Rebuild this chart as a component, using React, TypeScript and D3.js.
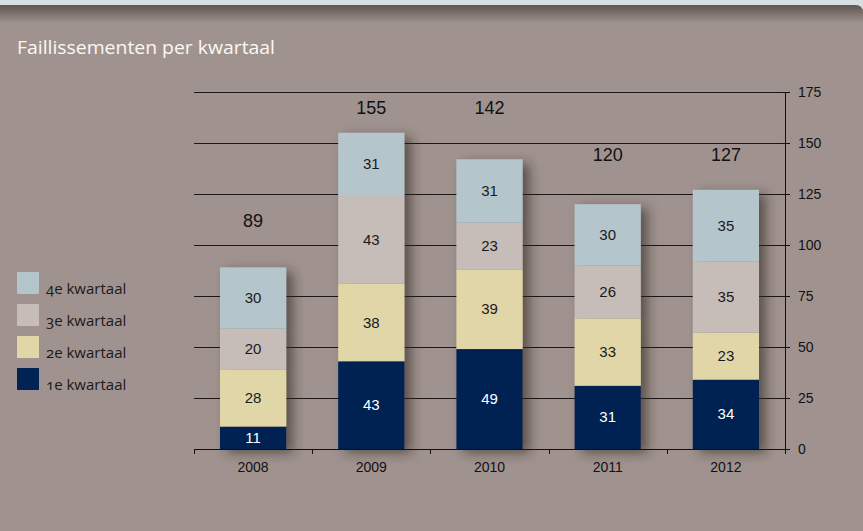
import React from "react";
import * as d3 from "d3";

const years = ["2008", "2009", "2010", "2011", "2012"];
const q1 = [11, 43, 49, 31, 34];
const q2 = [28, 38, 39, 33, 23];
const q3 = [20, 43, 23, 26, 35];
const q4 = [30, 31, 31, 30, 35];
const totals = [89, 155, 142, 120, 127];
const seriesNames = ["1e kwartaal", "2e kwartaal", "3e kwartaal", "4e kwartaal"];
const yTicks = [0, 25, 50, 75, 100, 125, 150, 175];
const title = "Faillissementen per kwartaal";

const colors = ["#012353", "#e1d6a8", "#c6bdb8", "#b4c6cb"];
const labelColors = ["#ffffff", "#1a1a1a", "#1a1a1a", "#1a1a1a"];
// height (in data units) at which each total label is centred
const totalLabelLevels = [112, 167, 167, 144, 144];

export default function App() {
  const W = 863, H = 531;
  const left = 194, right = 785, top = 92, bottom = 449;
  const x = d3.scaleBand<string>().domain(years).range([left, right]).paddingInner(0.44).paddingOuter(0.22);
  const xb = d3.scaleBand<string>().domain(years).range([left, right]);
  const y = d3.scaleLinear().domain([0, 175]).range([bottom, top]);
  const series = [q1, q2, q3, q4];
  const stackData = years.map((yr, i) => ({ yr, s0: q1[i], s1: q2[i], s2: q3[i], s3: q4[i] }));
  const stack = d3.stack<any>().keys(["s0", "s1", "s2", "s3"])(stackData);
  const font = "'Liberation Sans', Arial, sans-serif";
  const legendOrder = [3, 2, 1, 0];

  return (
    <svg width={W} height={H} style={{ position: "absolute", left: 0, top: 0 }}>
      <defs>
        <linearGradient id="topShade" x1="0" y1="0" x2="0" y2="1">
          <stop offset="0" stopColor="#5f5551" />
          <stop offset="1" stopColor="#a0938f" />
        </linearGradient>
        <filter id="shadow" x="-30%" y="-20%" width="180%" height="150%">
          <feDropShadow dx="7" dy="4" stdDeviation="6" floodColor="#2e2522" floodOpacity="0.6" />
        </filter>
      </defs>
      <rect x={0} y={0} width={W} height={H} fill="#d6dfe2" />
      <path d={`M0,5 H${W - 8} Q${W},5 ${W},13 V${H} H0 Z`} fill="#a0938f" />
      <rect x={0} y={5} width={W - 8} height={18} fill="url(#topShade)" />
      <path d={`M${W - 8},5 Q${W},5 ${W},13 V23 H${W - 8} Z`} fill="url(#topShade)" />
      <text x={17} y={54} fill="#fbf8f4" fontFamily="'Open Sans', sans-serif" fontSize={19} fontWeight={400}
        textLength={258} lengthAdjust="spacingAndGlyphs">{title}</text>

      {/* gridlines */}
      {yTicks.filter(t => t > 0).map(t => (
        <line key={t} x1={left} x2={right} y1={Math.round(y(t)) + 0.5} y2={Math.round(y(t)) + 0.5} stroke="#1c1716" strokeWidth={1} />
      ))}

      {/* bars */}
      {years.map((yr, i) => (
        <g key={yr} filter="url(#shadow)">
          {stack.map((layer, k) => {
            const d = layer[i];
            return <rect key={k} x={x(yr)} y={y(d[1])} width={x.bandwidth()} height={y(d[0]) - y(d[1])} fill={colors[k]} />;
          })}
        </g>
      ))}
      {years.map((yr, i) => (
        <g key={"l" + yr}>
          {stack.map((layer, k) => {
            const d = layer[i];
            return (
              <text key={k} x={x(yr)! + x.bandwidth() / 2} y={(y(d[0]) + y(d[1])) / 2 + 5} textAnchor="middle"
                fontFamily={font} fontSize={15} fill={labelColors[k]}>{series[k][i]}</text>
            );
          })}
          <text x={x(yr)! + x.bandwidth() / 2} y={y(totalLabelLevels[i]) + 6} textAnchor="middle" fontFamily={font} fontSize={18} fill="#111">{totals[i]}</text>
        </g>
      ))}

      {/* x axis */}
      <line x1={left} x2={right} y1={bottom + 0.5} y2={bottom + 0.5} stroke="#111" />
      {years.map(yr => (
        <line key={"t" + yr} x1={Math.round(xb(yr)!) + 0.5} x2={Math.round(xb(yr)!) + 0.5} y1={bottom} y2={bottom + 5} stroke="#111" />
      ))}
      <line x1={right + 0.5} x2={right + 0.5} y1={bottom} y2={bottom + 5} stroke="#111" />
      {years.map(yr => (
        <text key={"x" + yr} x={xb(yr)! + xb.bandwidth() / 2} y={472} textAnchor="middle" fontFamily={font} fontSize={14} fill="#111">{yr}</text>
      ))}

      {/* right axis */}
      <line x1={right + 0.5} x2={right + 0.5} y1={top} y2={bottom + 1} stroke="#111" />
      {yTicks.map(t => (
        <g key={"y" + t}>
          <line x1={right - 2} x2={right + 5} y1={Math.round(y(t)) + 0.5} y2={Math.round(y(t)) + 0.5} stroke="#111" />
          <text x={798} y={y(t) + 5} fontFamily={font} fontSize={14} fill="#111">{t}</text>
        </g>
      ))}

      {/* legend */}
      {legendOrder.map((k, j) => (
        <g key={"lg" + k}>
          <rect x={17} y={272 + j * 32} width={22} height={22} fill={colors[k]} />
          <text x={46} y={294 + j * 32} fontFamily="'Open Sans', sans-serif" fontSize={15} fill="#1a1a1a"
            style={{ fontFeatureSettings: "'onum'" }}>{seriesNames[k]}</text>
        </g>
      ))}
    </svg>
  );
}
